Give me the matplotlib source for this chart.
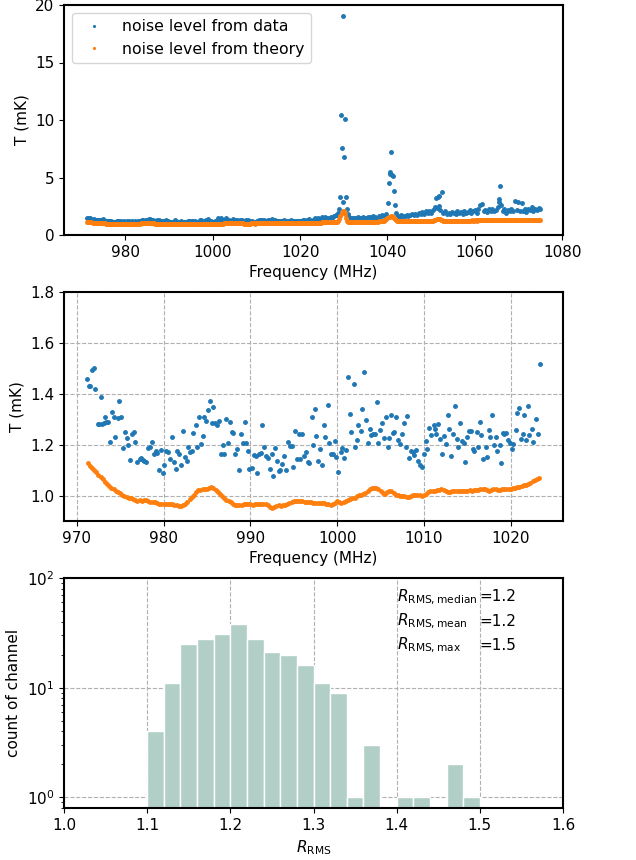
import numpy as np
import matplotlib
matplotlib.use('Agg')
from matplotlib import pyplot as plt

# measured noise per channel, 971-1024 MHz (mK)
mid_freq = [971.15, 971.4, 971.55, 971.75, 972.0, 972.15, 972.4, 972.6, 972.85, 972.95,
            973.1, 973.3, 973.4, 973.65, 973.85, 974.05, 974.25, 974.45, 974.75, 974.9,
            975.1, 975.3, 975.55, 975.75, 975.9, 976.15, 976.35, 976.55, 976.75, 977.0,
            977.25, 977.4, 977.6, 977.8, 978.0, 978.2, 978.4, 978.65, 978.85, 979.1,
            979.25, 979.45, 979.7, 979.9, 980.1, 980.3, 980.55, 980.75, 980.95, 981.15,
            981.4, 981.55, 981.75, 982.05, 982.25, 982.45, 982.65, 982.85, 983.1, 983.3,
            983.45, 983.7, 983.9, 984.1, 984.3, 984.55, 984.7, 984.9, 985.15, 985.35,
            985.55, 985.75, 985.95, 986.15, 986.4, 986.6, 986.8, 987.0, 987.25, 987.4,
            987.65, 987.85, 988.05, 988.25, 988.5, 988.7, 988.9, 989.1, 989.35, 989.55,
            989.75, 989.9, 990.15, 990.4, 990.6, 990.8, 991.0, 991.2, 991.4, 991.6,
            991.8, 992.0, 992.25, 992.45, 992.65, 992.85, 993.1, 993.25, 993.45, 993.65,
            993.85, 994.1, 994.3, 994.55, 994.75, 994.9, 995.15, 995.35, 995.6, 995.75,
            995.95, 996.2, 996.4, 996.6, 996.8, 997.05, 997.25, 997.4, 997.6, 997.85,
            998.05, 998.25, 998.45, 998.65, 998.9, 999.1, 999.3, 999.5, 999.7, 999.9,
            1000.15, 1000.4, 1000.6, 1000.8, 1001.0, 1001.25, 1001.45, 1001.65, 1001.9, 1002.1,
            1002.25, 1002.45, 1002.7, 1002.9, 1003.1, 1003.3, 1003.5, 1003.75, 1003.9, 1004.15,
            1004.35, 1004.55, 1004.75, 1004.95, 1005.15, 1005.35, 1005.6, 1005.8, 1006.0, 1006.2,
            1006.4, 1006.6, 1006.8, 1007.0, 1007.25, 1007.45, 1007.7, 1007.9, 1008.1, 1008.3,
            1008.5, 1008.75, 1008.9, 1009.1, 1009.35, 1009.55, 1009.75, 1010.0, 1010.2, 1010.4,
            1010.6, 1010.8, 1011.1, 1011.25, 1011.4, 1011.65, 1011.85, 1012.1, 1012.25, 1012.5,
            1012.75, 1012.9, 1013.15, 1013.35, 1013.55, 1013.75, 1013.95, 1014.15, 1014.4, 1014.6,
            1014.75, 1015.0, 1015.15, 1015.4, 1015.6, 1015.8, 1016.05, 1016.25, 1016.4, 1016.6,
            1016.85, 1017.1, 1017.25, 1017.45, 1017.65, 1017.85, 1018.1, 1018.25, 1018.45, 1018.7,
            1018.85, 1019.1, 1019.25, 1019.45, 1019.7, 1019.9, 1020.1, 1020.3, 1020.55, 1020.75,
            1020.95, 1021.15, 1021.35, 1021.55, 1021.75, 1021.95, 1022.15, 1022.4, 1022.6, 1022.85,
            1023.1, 1023.4]
mid_T = [1.46, 1.43, 1.43, 1.495, 1.5, 1.42, 1.28, 1.28, 1.387, 1.28,
         1.285, 1.31, 1.29, 1.29, 1.21, 1.327, 1.31, 1.23, 1.305, 1.37,
         1.31, 1.185, 1.25, 1.225, 1.197, 1.14, 1.24, 1.248, 1.21, 1.13,
         1.145, 1.148, 1.14, 1.135, 1.13, 1.185, 1.19, 1.21, 1.165, 1.175,
         1.168, 1.1, 1.18, 1.09, 1.12, 1.175, 1.17, 1.143, 1.23, 1.133,
         1.103, 1.175, 1.165, 1.12, 1.255, 1.153, 1.136, 1.19, 1.17, 1.175,
         1.245, 1.276, 1.192, 1.307, 1.204, 1.233, 1.31, 1.294, 1.338, 1.373,
         1.286, 1.348, 1.286, 1.278, 1.294, 1.162, 1.2, 1.162, 1.3, 1.205,
         1.288, 1.25, 1.247, 1.165, 1.182, 1.1, 1.24, 1.208, 1.29, 1.208,
         1.174, 1.105, 1.11, 1.16, 1.155, 1.088, 1.165, 1.168, 1.276, 1.192,
         1.157, 1.149, 1.106, 1.163, 1.078, 1.186, 1.136, 1.095, 1.102, 1.125,
         1.157, 1.1, 1.21, 1.196, 1.194, 1.111, 1.252, 1.145, 1.24, 1.145,
         1.24, 1.155, 1.171, 1.132, 1.128, 1.307, 1.199, 1.341, 1.235, 1.137,
         1.182, 1.122, 1.277, 1.229, 1.357, 1.205, 1.165, 1.163, 1.213, 1.153,
         1.094, 1.17, 1.186, 1.149, 1.18, 1.467, 1.32, 1.25, 1.44, 1.19,
         1.218, 1.277, 1.255, 1.34, 1.485, 1.297, 1.205, 1.263, 1.237, 1.24,
         1.242, 1.369, 1.208, 1.256, 1.286, 1.225, 1.307, 1.19, 1.226, 1.316,
         1.245, 1.248, 1.31, 1.218, 1.203, 1.24, 1.284, 1.19, 1.313, 1.146,
         1.175, 1.172, 1.158, 1.18, 1.137, 1.122, 1.114, 1.163, 1.216, 1.184,
         1.265, 1.237, 1.278, 1.263, 1.24, 1.281, 1.221, 1.163, 1.234, 1.203,
         1.318, 1.263, 1.156, 1.24, 1.352, 1.224, 1.192, 1.286, 1.213, 1.205,
         1.131, 1.229, 1.252, 1.252, 1.182, 1.174, 1.25, 1.192, 1.289, 1.239,
         1.145, 1.192, 1.153, 1.258, 1.229, 1.318, 1.2, 1.229, 1.174, 1.2,
         1.129, 1.245, 1.243, 1.247, 1.218, 1.208, 1.184, 1.203, 1.258, 1.323,
         1.344, 1.221, 1.24, 1.318, 1.218, 1.352, 1.237, 1.26, 1.21, 1.3,
         1.24, 1.518]

# measured noise above 1024 MHz, incl. the RFI spikes
hi_freq = [1023.8, 1024.2, 1024.6, 1025.0, 1025.4, 1025.8, 1026.2, 1026.6, 1027.0, 1027.4,
           1027.8, 1028.2, 1028.5, 1028.75, 1029.0, 1029.2, 1029.35, 1029.6, 1029.75, 1029.9,
           1030.05, 1030.2, 1030.45, 1030.65, 1030.9, 1031.2, 1031.6, 1032.0, 1032.4, 1032.8,
           1033.2, 1033.6, 1034.0, 1034.4, 1034.8, 1035.2, 1035.6, 1036.0, 1036.4, 1036.8,
           1037.2, 1037.6, 1038.0, 1038.4, 1038.8, 1039.2, 1039.6, 1040.05, 1040.3, 1040.5,
           1040.6, 1040.8, 1040.95, 1041.2, 1041.5, 1041.7, 1042.0, 1042.4, 1042.8, 1043.2,
           1043.6, 1044.0, 1044.4, 1044.8, 1045.2, 1045.6, 1046.0, 1046.4, 1046.8, 1047.2,
           1047.6, 1048.0, 1048.4, 1048.8, 1049.2, 1049.6, 1050.0, 1050.4, 1050.8, 1051.15,
           1051.3, 1051.5, 1051.7, 1051.85, 1052.05, 1052.45, 1052.8, 1053.2, 1053.6, 1054.0,
           1054.4, 1054.8, 1055.2, 1055.6, 1056.0, 1056.4, 1056.8, 1057.2, 1057.6, 1058.0,
           1058.4, 1058.8, 1059.2, 1059.6, 1060.0, 1060.4, 1060.8, 1061.2, 1061.6, 1062.0,
           1062.4, 1062.8, 1063.2, 1063.6, 1064.0, 1064.4, 1064.8, 1065.2, 1065.5, 1065.65,
           1065.8, 1066.0, 1066.4, 1066.8, 1067.2, 1067.6, 1068.0, 1068.4, 1068.8, 1069.2,
           1069.6, 1069.9, 1070.3, 1070.7, 1071.0, 1071.4, 1071.8, 1072.2, 1072.6, 1073.0,
           1073.4, 1073.8, 1074.2, 1074.6, 1075.0]
hi_T = [1.42, 1.5, 1.38, 1.55, 1.47, 1.6, 1.5, 1.45, 1.58, 1.52,
        1.62, 1.7, 1.75, 1.9, 2.3, 3.3, 10.46, 7.57, 2.9, 19.07,
        6.75, 10.06, 3.3, 2.3, 1.85, 1.55, 1.5, 1.45, 1.52, 1.48,
        1.55, 1.5, 1.47, 1.58, 1.52, 1.5, 1.6, 1.55, 1.5, 1.62,
        1.58, 1.52, 1.65, 1.6, 1.7, 1.62, 1.8, 2.75, 4.5, 5.3,
        5.5, 7.2, 5.25, 5.15, 3.8, 2.6, 1.9, 1.65, 1.6, 1.7,
        1.62, 1.68, 1.75, 1.65, 1.72, 1.8, 1.7, 1.85, 1.75, 1.9,
        1.8, 2.0, 1.85, 2.05, 1.9, 2.1, 1.95, 2.15, 2.4, 3.2,
        2.35, 3.3, 2.5, 3.4, 2.2, 3.7, 1.95, 2.05, 1.8, 1.95,
        1.85, 2.0, 1.9, 1.85, 2.05, 1.9, 2.0, 1.85, 2.1, 1.95,
        2.0, 2.15, 1.9, 2.1, 2.2, 1.95, 2.25, 2.65, 2.7, 2.1,
        2.2, 2.0, 2.25, 2.1, 2.3, 2.05, 2.2, 2.4, 3.1, 2.9,
        4.25, 2.6, 2.1, 2.3, 1.95, 2.2, 2.05, 2.25, 2.1, 2.95,
        2.2, 2.9, 2.05, 2.75, 2.1, 2.3, 2.0, 2.25, 2.15, 2.4,
        2.05, 2.3, 2.2, 2.35, 2.25]

# radiometer-equation noise on the 0.25 MHz channel grid, 971.25-1075 MHz
theory_f0 = 971.25
theory_df = 0.25
theory_T = [
    1.128, 1.118, 1.110, 1.100, 1.092, 1.082, 1.074, 1.064, 1.055, 1.046, 1.037, 1.029, 1.024, 1.019, 1.013, 1.009, 1.003, 0.998, 0.994, 0.990,
    0.991, 0.986, 0.983, 0.980, 0.982, 0.979, 0.984, 0.981, 0.977, 0.976, 0.975, 0.973, 0.970, 0.968, 0.966, 0.965, 0.966, 0.967, 0.965, 0.966,
    0.964, 0.962, 0.958, 0.960, 0.963, 0.968, 0.976, 0.985, 0.995, 1.004, 1.013, 1.020, 1.022, 1.024, 1.025, 1.027, 1.031, 1.033, 1.028, 1.022,
    1.014, 1.006, 0.998, 0.990, 0.984, 0.978, 0.973, 0.968, 0.963, 0.962, 0.963, 0.964, 0.965, 0.966, 0.965, 0.966, 0.964, 0.967, 0.966, 0.967,
    0.966, 0.965, 0.966, 0.962, 0.955, 0.950, 0.954, 0.959, 0.961, 0.960, 0.962, 0.963, 0.967, 0.972, 0.975, 0.977, 0.978, 0.977, 0.978, 0.977,
    0.976, 0.975, 0.975, 0.974, 0.972, 0.971, 0.970, 0.971, 0.970, 0.971, 0.968, 0.966, 0.963, 0.965, 0.972, 0.978, 0.976, 0.972, 0.975, 0.979,
    0.984, 0.988, 0.989, 0.992, 0.997, 1.002, 1.004, 1.007, 1.012, 1.018, 1.025, 1.030, 1.031, 1.030, 1.024, 1.018, 1.011, 1.008, 1.014, 1.019,
    1.017, 1.010, 1.004, 1.001, 0.999, 0.998, 0.997, 0.996, 0.995, 0.998, 1.001, 1.002, 1.003, 1.001, 1.000, 1.003, 1.008, 1.014, 1.018, 1.019,
    1.019, 1.021, 1.022, 1.026, 1.021, 1.016, 1.014, 1.015, 1.018, 1.019, 1.017, 1.019, 1.018, 1.016, 1.019, 1.018, 1.020, 1.019, 1.021, 1.022,
    1.023, 1.025, 1.026, 1.025, 1.021, 1.018, 1.022, 1.025, 1.024, 1.022, 1.023, 1.025, 1.024, 1.025, 1.027, 1.026, 1.028, 1.031, 1.033, 1.035,
    1.037, 1.040, 1.043, 1.047, 1.051, 1.056, 1.062, 1.066, 1.069, 1.072, 1.075, 1.078, 1.080, 1.083, 1.085, 1.087, 1.090, 1.092, 1.094, 1.096,
    1.098, 1.100, 1.100, 1.105, 1.110, 1.115, 1.120, 1.130, 1.140, 1.160, 1.200, 1.350, 1.650, 1.950, 2.100, 2.050, 1.800, 1.450, 1.250, 1.170,
    1.15, 1.14, 1.14, 1.13, 1.14, 1.14, 1.13, 1.14, 1.15, 1.14, 1.14, 1.15, 1.15, 1.14, 1.15, 1.15, 1.16, 1.15, 1.15, 1.16,
    1.16, 1.16, 1.17, 1.16, 1.17, 1.17, 1.17, 1.18, 1.18, 1.19, 1.20, 1.22, 1.25, 1.30, 1.38, 1.46, 1.54, 1.60, 1.63, 1.64,
    1.60, 1.50, 1.38, 1.30, 1.26, 1.24, 1.23, 1.22, 1.22, 1.21, 1.21, 1.22, 1.21, 1.21, 1.22, 1.22, 1.21, 1.22, 1.22, 1.22,
    1.22, 1.23, 1.22, 1.22, 1.23, 1.23, 1.22, 1.23, 1.23, 1.23, 1.24, 1.23, 1.23, 1.24, 1.24, 1.24, 1.25, 1.26, 1.28, 1.31,
    1.35, 1.38, 1.40, 1.38, 1.33, 1.29, 1.26, 1.25, 1.24, 1.24, 1.24, 1.25, 1.24, 1.24, 1.25, 1.25, 1.24, 1.25, 1.25, 1.25,
    1.25, 1.25, 1.26, 1.25, 1.25, 1.26, 1.26, 1.25, 1.26, 1.26, 1.26, 1.26, 1.27, 1.26, 1.26, 1.27, 1.27, 1.26, 1.27, 1.27,
    1.27, 1.27, 1.27, 1.28, 1.27, 1.27, 1.28, 1.28, 1.27, 1.28, 1.28, 1.28, 1.28, 1.29, 1.28, 1.28, 1.29, 1.29, 1.28, 1.29,
    1.29, 1.29, 1.29, 1.28, 1.29, 1.29, 1.29, 1.30, 1.29, 1.29, 1.30, 1.30, 1.29, 1.30, 1.30, 1.30, 1.30, 1.30, 1.31, 1.30,
    1.30, 1.31, 1.30, 1.31, 1.31, 1.31, 1.30, 1.31, 1.31, 1.32, 1.31, 1.31, 1.32, 1.31, 1.32, 1.32]

# histogram of data/theory ratio
ratio_edges = [1.10, 1.12, 1.14, 1.16, 1.18, 1.20, 1.22, 1.24, 1.26, 1.28, 1.30,
               1.32, 1.34, 1.36, 1.38, 1.40, 1.42, 1.44, 1.46, 1.48, 1.50]
ratio_counts = [4, 11, 25, 28, 31, 38, 28, 21, 20, 16,
                11, 9, 1, 3, 0, 1, 1, 0, 2, 1]
stat_names = ['median', 'mean', 'max']
stat_values = [1.2, 1.2, 1.5]

plt.rcParams['font.size'] = 11

blue = '#1f77b4'
orange = '#ff7f0e'
ms = 5

data_f = np.array(mid_freq + hi_freq)
data_T = np.array(mid_T + hi_T)
theory_T = np.array(theory_T)
theory_f = theory_f0 + theory_df * np.arange(len(theory_T))

fig = plt.figure(figsize=(6.36, 8.6), dpi=100)
W, H = 636., 860.
ax1 = fig.add_axes([64/W, 1 - 235/H, 499/W, 230/H])
ax2 = fig.add_axes([64/W, 1 - 521/H, 499/W, 229/H])
ax3 = fig.add_axes([64/W, 1 - 808/H, 499/W, 230/H])

for ax in (ax1, ax2, ax3):
    for sp in ax.spines.values():
        sp.set_linewidth(1.5)

# full band
ax1.plot(data_f, data_T, '.', color=blue, ms=ms, label='noise level from data')
ax1.plot(theory_f, theory_T, '.', color=orange, ms=ms, label='noise level from theory')
ax1.set_ylim(0, 20)
ax1.set_yticks([0, 5, 10, 15, 20])
ax1.set_xlabel('Frequency (MHz)')
ax1.set_ylabel('T (mK)')
ax1.legend(loc='upper left', fontsize=11.3, markerscale=0.5, numpoints=1)

# clean part of the band
m_d = data_f < 1023.5
m_t = theory_f < 1023.5
ax2.plot(data_f[m_d], data_T[m_d], '.', color=blue, ms=ms)
ax2.plot(theory_f[m_t], theory_T[m_t], '.', color=orange, ms=ms)
ax2.set_ylim(0.9, 1.8)
ax2.set_yticks([1.0, 1.2, 1.4, 1.6, 1.8])
ax2.set_xticks([970, 980, 990, 1000, 1010, 1020])
ax2.set_axisbelow(True)
ax2.grid(True, ls='--', color='#b0b0b0', lw=0.8)
ax2.set_xlabel('Frequency (MHz)')
ax2.set_ylabel('T (mK)')

# ratio histogram
ax3.bar(ratio_edges[:-1], ratio_counts, width=0.02, align='edge',
        color='#b1cfc6', edgecolor='white', linewidth=1, log=True)
ax3.set_xlim(1.0, 1.6)
ax3.set_ylim(0.8, 100)
ax3.set_axisbelow(True)
ax3.grid(True, ls='--', color='#b0b0b0', lw=0.8)
ax3.set_xlabel(r'$R_{\rm RMS}$')
ax3.set_ylabel('count of channel')
tr = ax3.get_xaxis_transform()
for name, val, yy in zip(stat_names, stat_values, [0.898, 0.793, 0.689]):
    ax3.text(1.4, yy, r'$R_{\mathrm{RMS,%s}}$' % name, transform=tr,
             fontsize=11, va='baseline', ha='left')
    ax3.text(1.5, yy, '=%.1f' % val, transform=tr, fontsize=11,
             va='baseline', ha='left')

fig.savefig('out.png', dpi=100)
